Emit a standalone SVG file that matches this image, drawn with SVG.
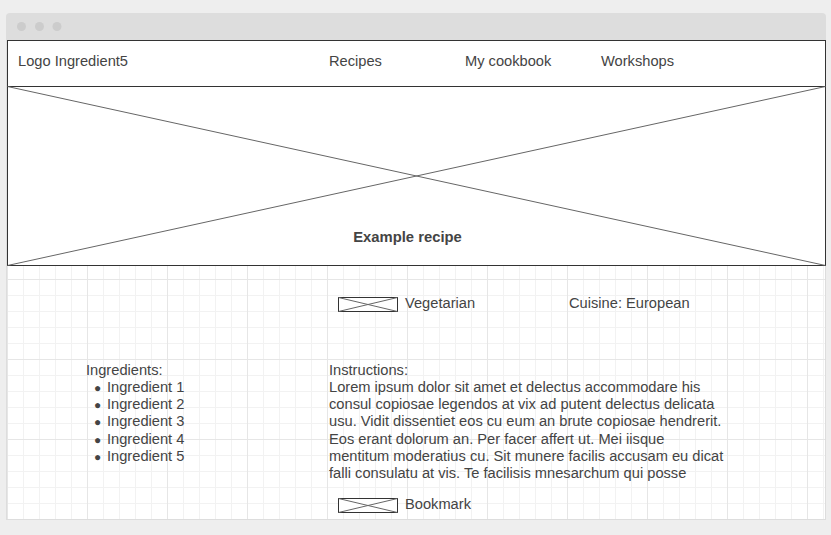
<svg xmlns="http://www.w3.org/2000/svg" width="831" height="535" viewBox="0 0 831 535">
<style>
.t{font-family:"Liberation Sans",Arial,sans-serif;font-size:14.67px;fill:#444}
.b{font-weight:bold;font-size:14.8px}
.bd{fill:#fff;stroke:#333;stroke-width:1}
.x{stroke:#666;stroke-width:1;fill:none}
.cb{fill:#fff;stroke:#333;stroke-width:1}
.bl{font-size:12px}
</style>
<defs>
<pattern id="grid" x="7" y="39" width="80" height="80" patternUnits="userSpaceOnUse">
<rect width="80" height="80" fill="#fff"/>
<path d="M16.5 0V80M32.5 0V80M48.5 0V80M64.5 0V80M0 16.5H80M0 32.5H80M0 48.5H80M0 64.5H80" stroke="#f2f2f2" stroke-width="1"/>
<path d="M0.5 0V80M0 0.5H80" stroke="#e6e6e6" stroke-width="1"/>
</pattern>
</defs>
<rect width="831" height="535" fill="#eeeeee"/>
<g id="window">
<rect x="6" y="13" width="820" height="507" rx="4" fill="#dddddd"/>
<rect x="6" y="40" width="820" height="480" fill="url(#grid)"/>
<rect x="6.5" y="40.5" width="819" height="479" fill="none" stroke="#dddddd"/>
<circle cx="21.5" cy="26.5" r="4.5" fill="#cccccc"/>
<circle cx="39.5" cy="26.5" r="4.5" fill="#cccccc"/>
<circle cx="57" cy="26.5" r="4.5" fill="#cccccc"/>
</g>
<g id="header">
<rect class="bd" x="7.5" y="40.5" width="818" height="46"/>
<text class="t" x="18" y="66">Logo Ingredient5</text>
<text class="t" x="329" y="66">Recipes</text>
<text class="t" x="465" y="66">My cookbook</text>
<text class="t" x="601" y="66">Workshops</text>
</g>
<g id="hero">
<rect class="bd" x="7.5" y="86.5" width="818" height="179"/>
<line class="x" x1="7.5" y1="86.5" x2="825.5" y2="265.5"/>
<line class="x" x1="7.5" y1="265.5" x2="825.5" y2="86.5"/>
<text class="t b" x="407.5" y="242" text-anchor="middle">Example recipe</text>
</g>
<g id="vegetarian">
<rect class="cb" x="338.5" y="297.5" width="59" height="14"/>
<line class="x" x1="338.5" y1="297.5" x2="397.5" y2="311.5"/>
<line class="x" x1="338.5" y1="311.5" x2="397.5" y2="297.5"/>
<text class="t" x="405" y="308">Vegetarian</text>
</g>
<g id="cuisine">
<text class="t" x="569" y="308">Cuisine: European</text>
</g>
<g id="ingredients">
<text class="t" x="86" y="375">Ingredients:</text>
<text class="t" y="392"><tspan class="bl" x="94">●</tspan><tspan x="107">Ingredient 1</tspan></text>
<text class="t" y="409"><tspan class="bl" x="94">●</tspan><tspan x="107">Ingredient 2</tspan></text>
<text class="t" y="426"><tspan class="bl" x="94">●</tspan><tspan x="107">Ingredient 3</tspan></text>
<text class="t" y="444"><tspan class="bl" x="94">●</tspan><tspan x="107">Ingredient 4</tspan></text>
<text class="t" y="461"><tspan class="bl" x="94">●</tspan><tspan x="107">Ingredient 5</tspan></text>
</g>
<g id="instructions">
<text class="t" x="329" y="375">Instructions:</text>
<text class="t" x="329" y="392">Lorem ipsum dolor sit amet et delectus accommodare his</text>
<text class="t" x="329" y="409">consul copiosae legendos at vix ad putent delectus delicata</text>
<text class="t" x="329" y="426">usu. Vidit dissentiet eos cu eum an brute copiosae hendrerit.</text>
<text class="t" x="329" y="444">Eos erant dolorum an. Per facer affert ut. Mei iisque</text>
<text class="t" x="329" y="461">mentitum moderatius cu. Sit munere facilis accusam eu dicat</text>
<text class="t" x="329" y="478">falli consulatu at vis. Te facilisis mnesarchum qui posse</text>
</g>
<g id="bookmark">
<rect class="cb" x="338.5" y="498.5" width="59" height="14"/>
<line class="x" x1="338.5" y1="498.5" x2="397.5" y2="512.5"/>
<line class="x" x1="338.5" y1="512.5" x2="397.5" y2="498.5"/>
<text class="t" x="405" y="509">Bookmark</text>
</g>
<g id="connectors"></g>
</svg>
